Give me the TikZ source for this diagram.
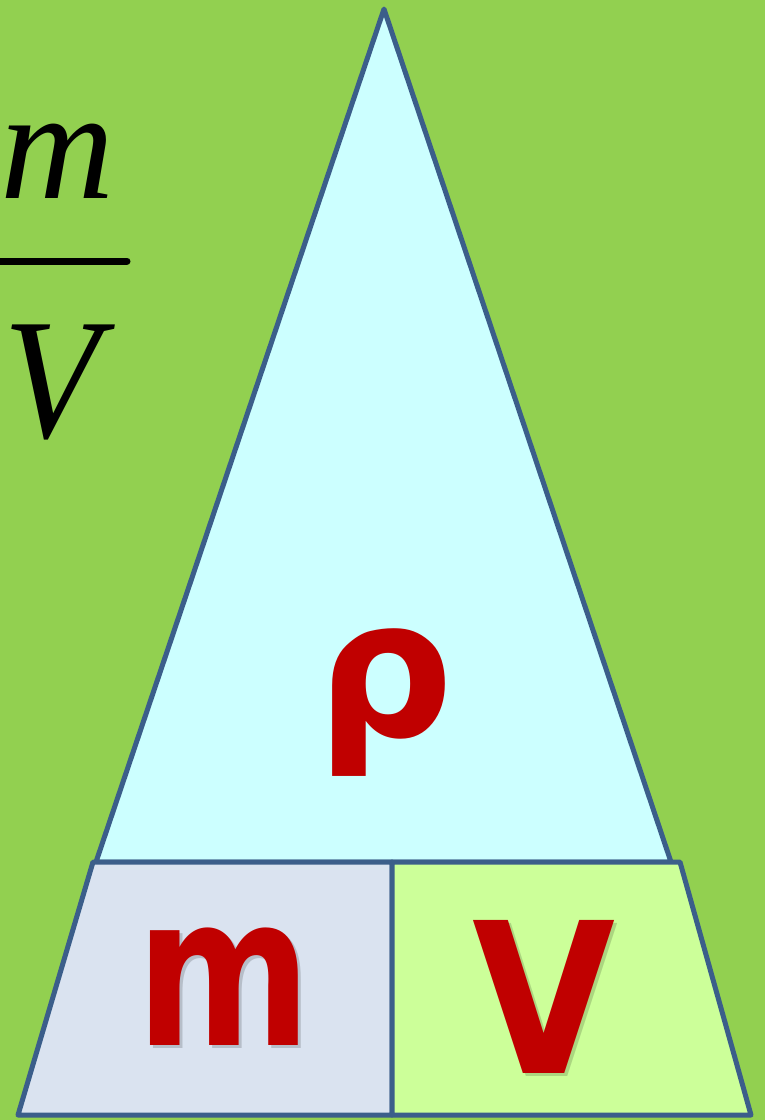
\documentclass[tikz,border=0pt]{standalone}
\usepackage{fontspec}
\newfontfamily\bsans{DejaVu Sans}
\newfontfamily\tnr{Liberation Serif}
\definecolor{bg}{HTML}{92D050}
\definecolor{edge}{HTML}{3B5E8A}
\definecolor{trif}{HTML}{CCFFFF}
\definecolor{mfill}{HTML}{DAE3F0}
\definecolor{vfill}{HTML}{CCFF99}
\definecolor{redt}{HTML}{C00000}
\tikzset{
  shape line/.style={draw=edge, line width=5pt, line join=round},
  shade copy/.style={fill=black, opacity=0.18},
  big letter/.style={inner sep=0pt, anchor=base, text=redt, font=\bsans\bfseries\fontsize{210}{210}\selectfont},
  letter shadow/.style={inner sep=0pt, anchor=base, text=black, opacity=0.16, font=\bsans\bfseries\fontsize{210}{210}\selectfont},
  frac letter/.style={inner sep=0pt, anchor=base, text=black, font=\tnr\itshape\fontsize{172}{172}\selectfont}
}
\begin{document}
\begin{tikzpicture}[x=1pt,y=-1pt]
\fill[bg] (0,0) rectangle (765,1120);
\useasboundingbox (0,0) rectangle (765,1120);
% coordinates
\coordinate (apex) at (384,9);
\coordinate (tbl) at (96,862);
\coordinate (tbr) at (671,862);
\coordinate (ztl) at (93,862);
\coordinate (ztm) at (392,862);
\coordinate (ztr) at (680,862);
\coordinate (zbl) at (18,1115);
\coordinate (zbm) at (392,1115);
\coordinate (zbr) at (751,1115);
% shadows
\fill[shade copy, xshift=4pt, yshift=-4pt] (apex) -- (tbr) -- (tbl) -- cycle;
\fill[shade copy, xshift=4pt, yshift=-4pt] (ztl) -- (ztr) -- (zbr) -- (zbl) -- cycle;
% triangle
\filldraw[shape line, fill=trif] (apex) -- (tbr) -- (tbl) -- cycle;
% trapezoid halves
\filldraw[shape line, fill=mfill] (ztl) -- (ztm) -- (zbm) -- (zbl) -- cycle;
\filldraw[shape line, fill=vfill] (ztm) -- (ztr) -- (zbr) -- (zbm) -- cycle;
% letters
\node[letter shadow, xscale=0.8] at (227,1048) {m};
\node[big letter, xscale=0.8] (mlet) at (224,1045) {m};
\node[letter shadow, xscale=0.88] at (547,1076) {V};
\node[big letter, xscale=0.88] (vlet) at (544,1073) {V};
\node[big letter, font=\bsans\bfseries\fontsize{192}{192}\selectfont] (rho) at (385,736) {ρ};
% fraction
\node[frac letter, font=\tnr\itshape\fontsize{158}{158}\selectfont] (fm) at (58,198) {m};
\draw[line width=7pt, line cap=round] (-5,261) -- (127,261);
\node[frac letter, xscale=0.92] (fv) at (52,437) {V};
\end{tikzpicture}
\end{document}
